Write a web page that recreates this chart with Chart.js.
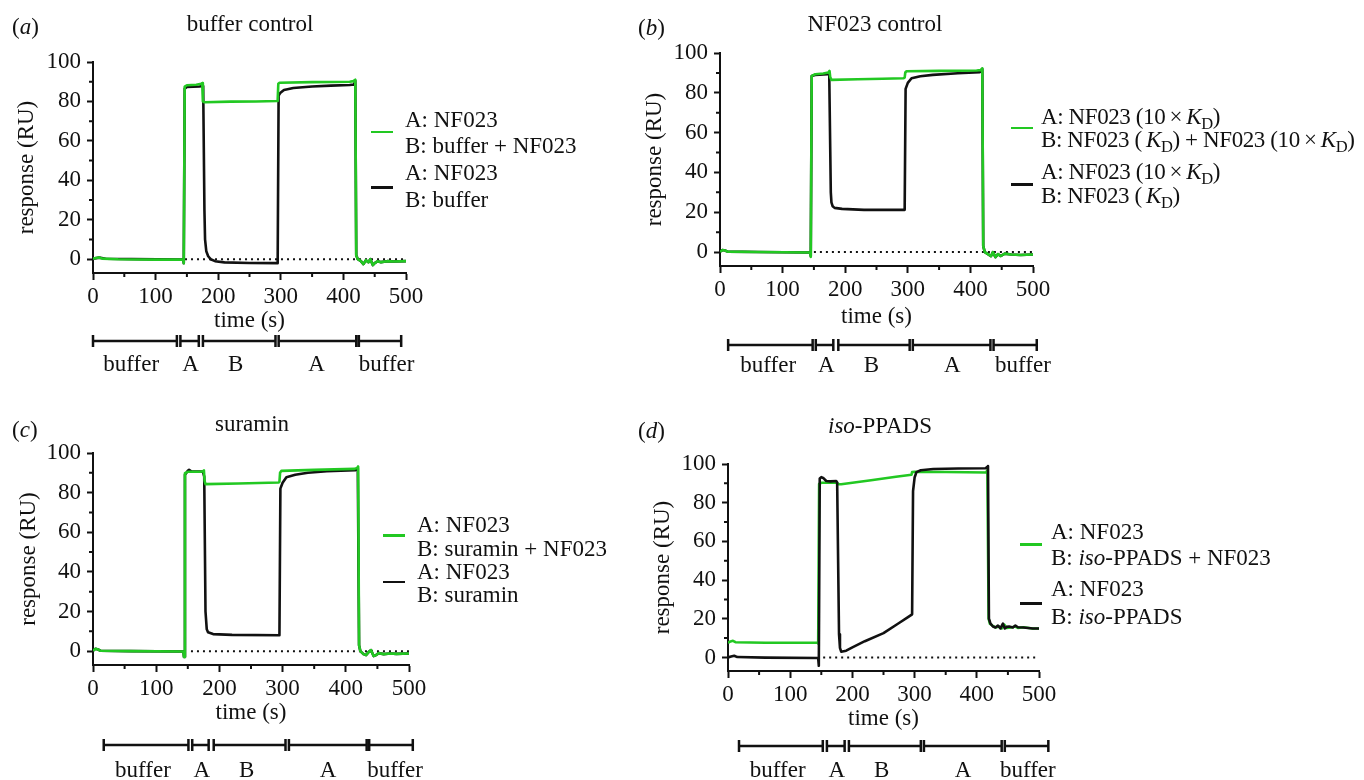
<!DOCTYPE html>
<html>
<head>
<meta charset="utf-8">
<script src="https://cdn.jsdelivr.net/npm/chart.js@4.4.1/dist/chart.umd.min.js"></script>
<style>
  body { margin: 0; background: #fff; }
  #page { position: relative; width: 1364px; height: 780px; overflow: hidden;
    font-family: 'Liberation Serif', 'Times New Roman', serif; color: #111; font-size: 23px; }
  canvas { position: absolute; }
  .t { position: absolute; white-space: nowrap; line-height: 1; }
  .title { transform: translate(-50%, -50%); }
  .tag { transform: translateY(-50%); }
  .sw { position: absolute; height: 2.5px; width: 22px; }
  .lg { position: absolute; white-space: nowrap; }
  .tight { letter-spacing: -0.4px; }
  sub { font-size: 0.72em; vertical-align: -0.3em; line-height: 0; }
</style>
</head>
<body>
<div id="page">
  <canvas id="cv-a" width="620" height="390" style="left:0;top:0;width:620px;height:390px"></canvas>
  <canvas id="cv-b" width="744" height="390" style="left:620px;top:0;width:744px;height:390px"></canvas>
  <canvas id="cv-c" width="620" height="390" style="left:0;top:390px;width:620px;height:390px"></canvas>
  <canvas id="cv-d" width="744" height="390" style="left:620px;top:390px;width:744px;height:390px"></canvas>

  <div class="t tag" style="left:12px;top:26px">(<i>a</i>)</div>
  <div class="t title" style="left:250px;top:23px">buffer control</div>
  <div class="t tag" style="left:638px;top:27px">(<i>b</i>)</div>
  <div class="t title" style="left:875px;top:23px">NF023 control</div>
  <div class="t tag" style="left:12px;top:429px">(<i>c</i>)</div>
  <div class="t title" style="left:252px;top:423px">suramin</div>
  <div class="t tag" style="left:638px;top:430px">(<i>d</i>)</div>
  <div class="t title" style="left:880px;top:425px"><i>iso</i>-PPADS</div>

  <!-- legends -->
  <div class="sw" style="left:371px;top:130.5px;background:#22c822"></div>
  <div class="lg" style="left:405px;top:106.7px;line-height:26.7px">A: NF023<br>B: buffer + NF023</div>
  <div class="sw" style="left:371px;top:186px;background:#111"></div>
  <div class="lg" style="left:405px;top:160px;line-height:26.7px">A: NF023<br>B: buffer</div>

  <div class="sw" style="left:1011px;top:126.5px;background:#22c822"></div>
  <div class="lg tight" style="left:1041px;top:105px;line-height:23.3px">A: NF023 (10&#8201;×&#8201;<i>K</i><sub>D</sub>)<br>B: NF023 (&#8201;<i>K</i><sub>D</sub>) + NF023 (10&#8201;×&#8201;<i>K</i><sub>D</sub>)</div>
  <div class="sw" style="left:1011px;top:183px;background:#111"></div>
  <div class="lg tight" style="left:1041px;top:160.3px;line-height:23.3px">A: NF023 (10&#8201;×&#8201;<i>K</i><sub>D</sub>)<br>B: NF023 (&#8201;<i>K</i><sub>D</sub>)</div>

  <div class="sw" style="left:383px;top:534px;background:#22c822"></div>
  <div class="lg" style="left:417px;top:513px;line-height:24px">A: NF023<br>B: suramin + NF023</div>
  <div class="sw" style="left:383px;top:580.5px;background:#111"></div>
  <div class="lg" style="left:417px;top:560px;line-height:23.3px">A: NF023<br>B: suramin</div>

  <div class="sw" style="left:1020px;top:543px;background:#22c822"></div>
  <div class="lg" style="left:1051px;top:518.5px;line-height:26.3px">A: NF023<br>B: <i>iso</i>-PPADS + NF023</div>
  <div class="sw" style="left:1020px;top:602px;background:#111"></div>
  <div class="lg" style="left:1051px;top:575px;line-height:28px">A: NF023<br>B: <i>iso</i>-PPADS</div>
</div>

<script>
// axis ticks
const xTicks = [0, 100, 200, 300, 400, 500];
const xMinorTicks = [50, 150, 250, 350, 450];
const yTicks = [0, 20, 40, 60, 80, 100];
const yMinorTicks = [10, 30, 50, 70, 90];
const phaseNames = ["buffer", "A", "B", "A", "buffer"];

// (a) buffer control — [time s, response RU]
const aGreen = [[0,0.3],[5,0.6],[10,0.9],[15,0.3],[40,0],[100,-0.2],[144,-0.2],[145,-2],[146.5,87.5],[150,88.2],[165,88.5],[173,89],[174.5,89.3],[175.5,80],[178,79.6],[220,79.9],[260,80],[294,80.2],[295,80.5],[296,89],[298,89.5],[350,89.8],[410,90],[416,90.3],[419,91],[420.5,2],[423,0],[428,-1],[432,-2.5],[436,-0.5],[440,-1.5],[443,0],[447,-3],[450,-2],[455,-1],[460,-1.5],[470,-1],[480,-1.2],[500,-1]];
const aBlack = [[0,0.3],[10,0.8],[20,0.2],[144,-0.2],[145,-2],[146.5,86.5],[150,87.3],[170,87.6],[176,87.8],[178,25],[179,10],[181,4],[184,1.5],[188,0],[195,-1],[210,-1.6],[250,-1.9],[295,-2],[296.5,83],[299,84.3],[305,85.8],[320,86.8],[350,87.6],[380,88],[410,88.3],[417,88.6],[419,90.5],[420.5,2],[423,0],[428,-1],[432,-2.5],[436,-0.5],[440,-1.5],[443,0],[447,-3],[450,-2],[455,-1],[460,-1.5],[470,-1],[480,-1.2],[500,-1]];
const aZero = [[147,0],[500,0]];
const aPhases = [[0,134],[139.6,169],[175.6,291.5],[296.6,420.5],[424.7,492.3]];
const aPhaseLabelAt = [61, 156, 228, 357, 469];

// (b) NF023 control
const bGreen = [[0,0.2],[4,1],[8,0.8],[12,0.2],[60,0],[144,-0.2],[145,-2.4],[146.5,88.5],[152,89.3],[165,89.7],[173,90.2],[175,91],[176,88],[178,86.5],[220,86.8],[260,87.1],[293,87.3],[295,87.6],[296,90.2],[298,90.8],[350,91],[410,91.2],[417,91.5],[419,92.3],[420.5,3],[423,0],[428,-1],[433,-2],[436,0],[440,-2.5],[444,-1],[448,-2],[455,-0.8],[465,-1.2],[480,-1.5],[500,-1.2]];
const bBlack = [[0,0.2],[4,1],[8,0.8],[12,0.2],[60,0],[144,-0.2],[145,-2],[146.5,88.5],[152,89],[172,89.3],[174.5,89.5],[177,30],[178,25],[180,23],[183,22.2],[195,21.7],[230,21.2],[294,21.2],[295,21.3],[296.5,82],[300,85],[306,87.3],[320,88.3],[340,89],[380,89.8],[415,90.4],[419,92],[420.5,3],[423,0],[428,-1],[433,-2],[436,0],[440,-2.5],[444,-1],[448,-2],[455,-0.8],[465,-1.2],[480,-1.5],[500,-1.2]];
const bZero = [[150,0],[500,0]];
const bPhases = [[13,148],[153,181],[189,303],[308,432],[437,506]];
const bPhaseLabelAt = [77, 170, 242, 371, 484];

// (c) suramin
const cGreen = [[0,0.2],[4,1.2],[8,0.8],[12,0.2],[60,0],[143,-0.2],[144,-3],[145.5,89.8],[150,90.5],[170,90.6],[174,90.8],[175.5,91.2],[176.5,86],[178,84.3],[230,84.6],[294,85.1],[295,85.5],[296,90],[298,91],[350,91.5],[414,92],[418,92.5],[419.5,93.2],[421,3],[423,0],[428,-1.5],[432,-2],[436,-0.5],[440,0.5],[444,-2.5],[448,-2],[452,-1],[460,-1.5],[470,-1.2],[480,-1.4],[500,-1.2]];
const cBlack = [[0,0.2],[4,1.2],[8,0.8],[12,0.2],[60,0],[143,-0.2],[144,-3],[145.5,89],[150,91],[152,91.5],[156,90.6],[174,90.6],[176,88],[178,20],[180,11],[182,9.5],[190,8.6],[220,8.2],[295,8],[296.5,82],[300,85],[306,87.8],[320,89],[340,90],[370,90.8],[415,91.3],[419,92.5],[421,3],[423,0],[428,-1.5],[432,-2],[436,-0.5],[440,0.5],[444,-2.5],[448,-2],[452,-1],[460,-1.5],[470,-1.2],[480,-1.4],[500,-1.2]];
const cZero = [[155,0],[500,0]];
const cPhases = [[17,151],[157,183],[191,304.6],[310,433],[437,506]];
const cPhaseLabelAt = [79, 172, 243, 372, 478];

// (d) iso-PPADS
const dGreen = [[0,7.6],[4,8.3],[8,8.6],[12,7.9],[60,7.6],[144,7.6],[145,7.2],[146.5,89.7],[150,90.3],[165,90.3],[174,90.4],[178,89.6],[182,89.5],[230,91.6],[270,93.4],[295,94.4],[296,95.8],[300,96],[350,95.9],[415,95.6],[417,96.8],[419,20],[421,17.5],[425,16.5],[430,15.5],[436,16],[440,15],[444,17],[448,15.2],[455,15.5],[462,16],[466,15.3],[475,15.6],[490,15],[500,15]];
const dBlack = [[0,0],[5,0.5],[10,0.9],[15,0.2],[60,-0.1],[145,-0.3],[146,-4.3],[147.5,92.5],[150,93.2],[153,92.8],[158,91.2],[165,91],[174,91.2],[175.5,90.5],[178.5,12],[180,5],[182,3],[190,3.5],[200,5.2],[220,8.4],[250,12.6],[275,17.8],[290,21],[296,22.3],[297.5,86],[300,93],[303,95.8],[310,96.8],[330,97.4],[370,97.7],[414,97.8],[417,98.5],[418,99],[419.5,20],[422,17.5],[426,16],[430,15.5],[434,16.5],[438,15],[442,17.5],[445,15],[448,15.8],[452,16],[458,15.5],[462,16.5],[466,15.6],[475,15.5],[490,15],[500,15]];
const dZero = [[153,0],[500,0]];
const dPhases = [[17.7,152.4],[159,187.5],[194.4,310],[315,440],[445,515]];
const dPhaseLabelAt = [80, 175, 247, 378, 482];

const GREEN = "#22c822";
const BLACK = "#111111";
const FONT = "'Liberation Serif', 'Times New Roman', serif";

// layout of each panel inside its canvas
const panels = [
  { id: "cv-a", green: aGreen, black: aBlack, zero: aZero, phases: aPhases, labelAt: aPhaseLabelAt,
    greenOnTop: true, pad: { left: 0, top: 62, right: 214, bottom: 55 }, yw: 93, xh: 62, ytPad: 13,
    barOff: 68, labelOff: 92 },
  { id: "cv-b", green: bGreen, black: bBlack, zero: bZero, phases: bPhases, labelAt: bPhaseLabelAt,
    greenOnTop: true, pad: { left: 0, top: 53, right: 331, bottom: 59 }, yw: 100, xh: 65, ytPad: 21,
    barOff: 79, labelOff: 100 },
  { id: "cv-c", green: cGreen, black: cBlack, zero: cZero, phases: cPhases, labelAt: cPhaseLabelAt,
    greenOnTop: true, pad: { left: 0, top: 63, right: 211, bottom: 53 }, yw: 93, xh: 62, ytPad: 15,
    barOff: 80, labelOff: 106 },
  { id: "cv-d", green: dGreen, black: dBlack, zero: dZero, phases: dPhases, labelAt: dPhaseLabelAt,
    greenOnTop: false, pad: { left: 0, top: 74, right: 325, bottom: 47 }, yw: 108, xh: 62, ytPad: 29,
    barOff: 75, labelOff: 100 },
];

const toXY = (pairs) => pairs.map(([x, y]) => ({ x, y }));

const minorTicks = {
  id: "minorTicks",
  afterDraw(chart) {
    const { ctx, chartArea, scales } = chart;
    ctx.save();
    ctx.strokeStyle = BLACK;
    ctx.lineWidth = 2;
    ctx.beginPath();
    xMinorTicks.forEach((v) => {
      const px = scales.x.getPixelForValue(v);
      ctx.moveTo(px, chartArea.bottom);
      ctx.lineTo(px, chartArea.bottom + 4);
    });
    yMinorTicks.forEach((v) => {
      const py = scales.y.getPixelForValue(v);
      ctx.moveTo(chartArea.left, py);
      ctx.lineTo(chartArea.left - 4, py);
    });
    ctx.stroke();
    ctx.restore();
  },
};

// injection schedule bars under the time axis
function timeline(p) {
  return {
    id: "timeline",
    afterDraw(chart) {
      const { ctx, chartArea } = chart;
      const x = chart.scales.x;
      const yb = chartArea.bottom + p.barOff;
      ctx.save();
      ctx.strokeStyle = BLACK;
      ctx.lineWidth = 2.5;
      ctx.beginPath();
      p.phases.forEach(([a, b]) => {
        const xa = x.getPixelForValue(a);
        const xb = x.getPixelForValue(b);
        ctx.moveTo(xa, yb); ctx.lineTo(xb, yb);
        ctx.moveTo(xa, yb - 6); ctx.lineTo(xa, yb + 6);
        ctx.moveTo(xb, yb - 6); ctx.lineTo(xb, yb + 6);
      });
      ctx.stroke();
      ctx.fillStyle = BLACK;
      ctx.font = "23px " + FONT;
      ctx.textAlign = "center";
      ctx.textBaseline = "middle";
      phaseNames.forEach((name, i) => {
        ctx.fillText(name, x.getPixelForValue(p.labelAt[i]), chartArea.bottom + p.labelOff);
      });
      ctx.restore();
    },
  };
}

function buildPanel(p) {
  const green = { data: toXY(p.green), borderColor: GREEN, borderWidth: 2.6, order: p.greenOnTop ? 0 : 1 };
  const black = { data: toXY(p.black), borderColor: BLACK, borderWidth: 2.6, order: p.greenOnTop ? 1 : 0 };
  const zero = { data: toXY(p.zero), borderColor: BLACK, borderWidth: 2, borderDash: [2, 4], order: 2 };
  const tickFont = { family: FONT, size: 23 };

  new Chart(document.getElementById(p.id), {
    type: "line",
    data: { datasets: [green, black, zero] },
    options: {
      responsive: false,
      animation: false,
      layout: { padding: p.pad },
      elements: {
        point: { radius: 0 },
        line: { tension: 0, borderJoinStyle: "round", fill: false },
      },
      plugins: { legend: { display: false }, tooltip: { enabled: false } },
      scales: {
        x: {
          type: "linear",
          min: 0,
          max: 500,
          afterBuildTicks: (s) => { s.ticks = xTicks.map((value) => ({ value })); },
          afterFit: (s) => { s.height = p.xh; },
          ticks: { font: tickFont, color: BLACK, padding: 3, maxRotation: 0, autoSkip: false },
          grid: { drawOnChartArea: false, tickLength: 7, tickWidth: 2, tickColor: BLACK },
          border: { color: BLACK, width: 2 },
          title: { display: true, text: "time (s)", font: tickFont, color: BLACK, padding: 0 },
        },
        y: {
          type: "linear",
          min: -7,
          max: 100,
          afterBuildTicks: (s) => { s.ticks = yTicks.map((value) => ({ value })); },
          afterFit: (s) => { s.width = p.yw; },
          ticks: { font: tickFont, color: BLACK, padding: 6 },
          grid: { drawOnChartArea: false, tickLength: 6, tickWidth: 2, tickColor: BLACK },
          border: { color: BLACK, width: 2 },
          title: { display: true, text: "response (RU)", font: tickFont, color: BLACK, padding: { top: p.ytPad, bottom: 0 } },
        },
      },
    },
    plugins: [minorTicks, timeline(p)],
  });
}

panels.forEach(buildPanel);
</script>
</body>
</html>
